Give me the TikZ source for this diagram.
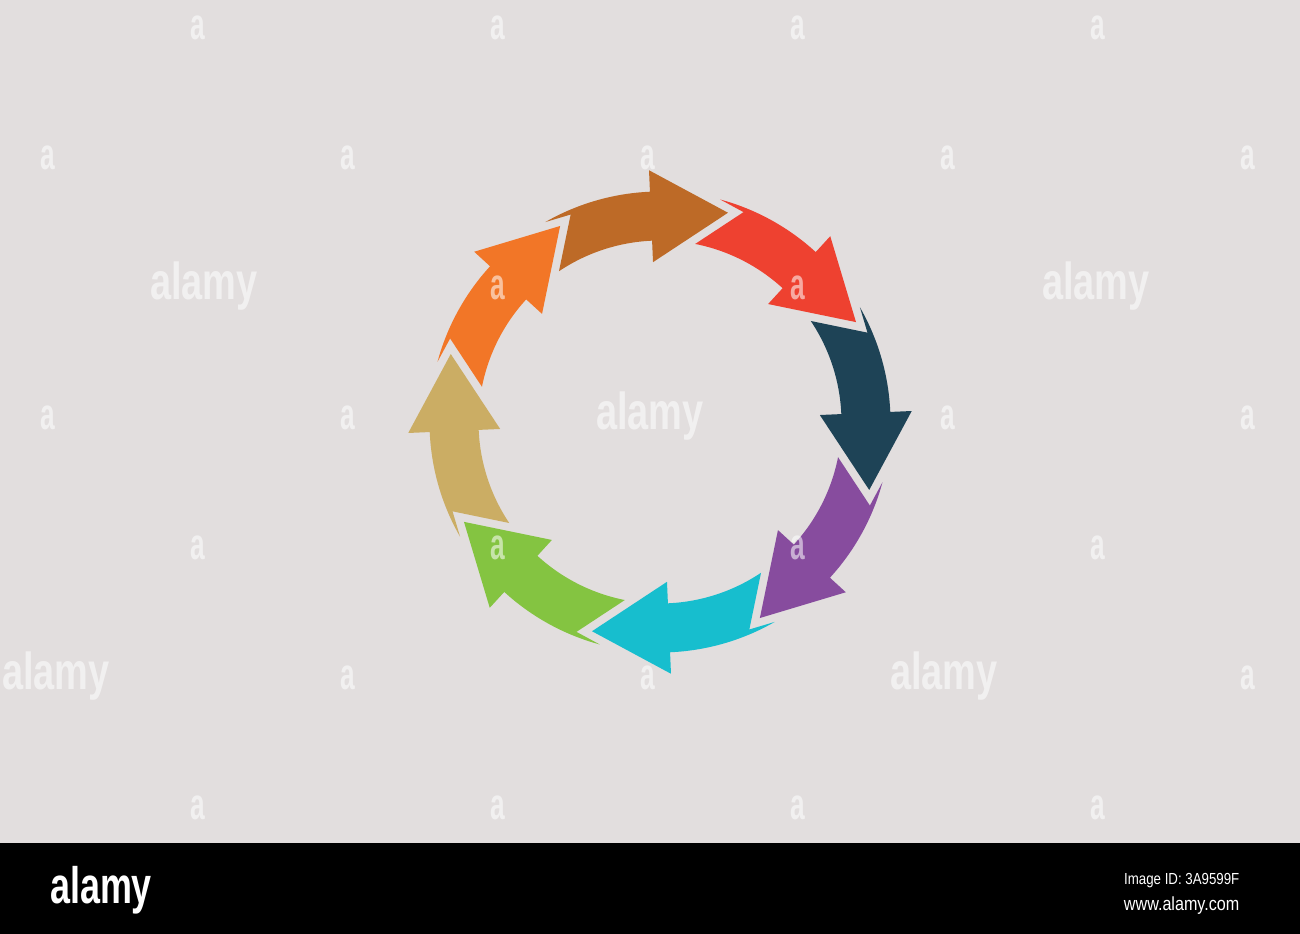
\documentclass[tikz,border=0pt]{standalone}
\usepackage{fontspec}
\setmainfont{Liberation Sans}
\usepackage{graphicx}
\usepackage{tikz}

\definecolor{paper}{HTML}{E2DEDE}
\definecolor{cBrown}{HTML}{BD6A27}
\definecolor{cRed}{HTML}{EE4130}
\definecolor{cNavy}{HTML}{1E4356}
\definecolor{cPurple}{HTML}{874C9E}
\definecolor{cCyan}{HTML}{17BECE}
\definecolor{cGreen}{HTML}{84C441}
\definecolor{cTan}{HTML}{CBAD64}
\definecolor{cOrange}{HTML}{F27627}

\begin{document}
\begin{tikzpicture}[
    x=0.1mm, y=0.1mm,
    wm big/.style={
        text=white,
        text opacity=0.55,
        inner sep=0pt,
        anchor=base,
        font=\bfseries\fontsize{14.8}{16}\selectfont
    },
    wm small/.style={
        text=white,
        text opacity=0.55,
        inner sep=0pt,
        anchor=base,
        font=\bfseries\fontsize{12.5}{14}\selectfont
    },
    band text/.style={
        text=white,
        inner sep=0pt,
        anchor=base east
    }
]

\useasboundingbox (0,0) rectangle (1300,934);
\fill[paper] (0,0) rectangle (1300,934);

% ring of eight arrows, clockwise from the top
\foreach \col [count=\n from 0] in {cBrown,cRed,cNavy,cPurple,cCyan,cGreen,cTan,cOrange}
  \fill[\col, shift={(660,512)}, rotate=-45*\n]
    (72:220) -- (92.5:160) -- (92.5:181.5)
    arc[start angle=92.5, end angle=123.82, radius=18.15mm]
    -- (113.3:225.9) -- (119.85:230.5)
    arc[start angle=119.85, end angle=92.5, radius=23.05mm]
    -- (92.5:252) -- cycle;

% watermarks
\foreach \px/\py [count=\n] in {198/894, 498/894, 798/894, 1098/894,
    48/764, 348/764, 648/764, 948/764, 1248/764,
    498/634, 798/634,
    48/504, 348/504, 948/504, 1248/504,
    198/374, 498/374, 798/374, 1098/374,
    348/244, 648/244, 1248/244,
    198/114, 498/114, 798/114, 1098/114}
  \node[wm small] (wa\n) at (\px,\py) {\scalebox{0.6}[1]{a}};

\foreach \px/\py [count=\n] in {204/634, 1096/634, 650/504, 56/244, 944/244}
  \node[wm big] (wb\n) at (\px,\py) {\scalebox{0.73}[1]{alamy}};

% bottom band
\fill[black] (0,0) rectangle (1300,91);
\node[inner sep=0pt, anchor=base, text=white,
      font=\bfseries\fontsize{14.6}{16}\selectfont] (logo) at (101,30)
  {\scalebox{0.7}[1]{alamy}};
\node[band text, font=\fontsize{4.55}{5}\selectfont] (imgid) at (1240,49)
  {\scalebox{0.83}[1]{Image ID: 3A9599F}};
\node[band text, font=\fontsize{5.4}{6}\selectfont] (site) at (1240,23)
  {\scalebox{0.85}[1]{www.alamy.com}};

\end{tikzpicture}
\end{document}
